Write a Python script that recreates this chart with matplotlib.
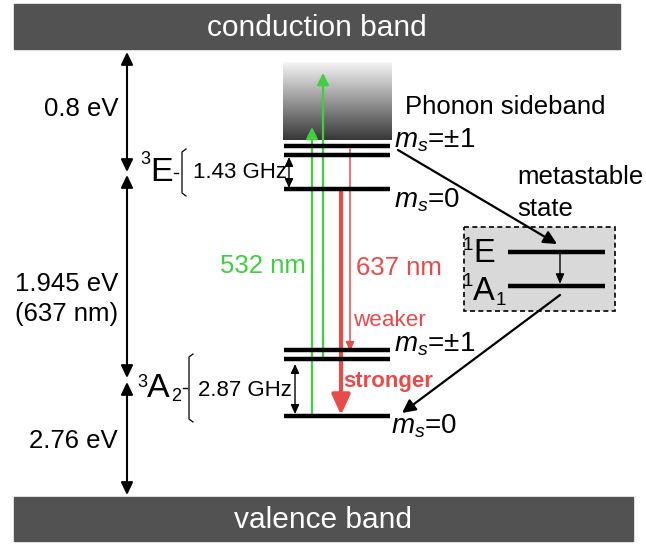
import numpy as np
import matplotlib
matplotlib.use("Agg")
import matplotlib.pyplot as plt
from matplotlib.patches import Rectangle, FancyArrowPatch

plt.rcParams['font.family'] = ['Liberation Sans', 'DejaVu Sans']
plt.rcParams['mathtext.fontset'] = 'custom'
plt.rcParams['mathtext.rm'] = 'Liberation Sans'
plt.rcParams['mathtext.it'] = 'Liberation Sans:italic'
plt.rcParams['mathtext.bf'] = 'Liberation Sans:bold'

# ---- diagram layout (canvas units, y grows downward) ----
band_labels = ["conduction band", "valence band"]
band_top = [4, 497]
band_bottom = [49, 541]

# triplet levels (y positions)
es_levels = [146, 155, 189]        # 3E: ms=±1 (split), ms=0
gs_levels = [350, 359, 416]        # 3A2: ms=±1 (split), ms=0
level_x = (284, 390)

# singlet (metastable) levels
singlet_levels = [252, 286]
singlet_x = (508, 605)

# energy gaps on the left axis
gap_labels = ["0.8 eV", "1.945 eV\n(637 nm)", "2.76 eV"]
gap_ranges = [(52, 172), (175, 378), (382, 495)]

GREEN = "#3fcf3f"
RED = "#e84b4b"
DARK = "#525252"

fig = plt.figure(figsize=(6.46, 5.44), dpi=100)
ax = fig.add_axes([0, 0, 1, 1])
ax.set_xlim(0, 646)
ax.set_ylim(544, 0)
ax.axis("off")

# bands
for lab, t, b, x1 in zip(band_labels, band_top, band_bottom, [620, 633]):
    ax.add_patch(Rectangle((14, t), x1 - 14, b - t, color=DARK, zorder=1))
    ax.text((14 + x1) / 2, (t + b) / 2 + 1, lab, color="white", fontsize=21.5,
            ha="center", va="center")

# phonon sideband gradient
grad = np.linspace(0.96, 0.22, 200).reshape(-1, 1)
ax.imshow(grad, cmap="gray", vmin=0, vmax=1, extent=(283, 392, 140, 62),
          aspect="auto", zorder=1)
ax.text(405, 107, "Phonon sideband", fontsize=18.5, ha="left", va="center")

def arrow(x0, y0, x1, y1, color="black", lw=1.5, hw=4, hl=8, both=False, z=3):
    style = f"{'<|-|>' if both else '-|>'},head_width={hw},head_length={hl}"
    p = FancyArrowPatch((x0, y0), (x1, y1), arrowstyle=style, color=color,
                        lw=lw, shrinkA=0, shrinkB=0, mutation_scale=1, zorder=z)
    ax.add_patch(p)

def term(x, y, base, sup, sup_xy, sub=None, sub_xy=None, fs=24, fs_small=13):
    """State term symbol: superscript multiplicity, letter, optional subscript.
    (x, y) is the left edge and baseline of the letter."""
    ax.text(*sup_xy, sup, fontsize=fs_small, ha="left", va="baseline", zorder=5)
    ax.text(x, y, base, fontsize=fs, ha="left", va="baseline", zorder=5)
    if sub is not None:
        ax.text(*sub_xy, sub, fontsize=fs_small, ha="left", va="baseline", zorder=5)

# left energy arrows
for (y0, y1), lab in zip(gap_ranges, gap_labels):
    arrow(127, y0, 127, y1, lw=1.5, hw=3.6, hl=7.5, both=True)
ax.text(118, 109, gap_labels[0], fontsize=18.5, ha="right", va="center")
ax.text(118, 299, gap_labels[1], fontsize=18.5, ha="right", va="center",
        multialignment="center", linespacing=1.3)
ax.text(118, 441, gap_labels[2], fontsize=18.5, ha="right", va="center")

# levels
for y in es_levels + gs_levels:
    ax.plot(level_x, [y, y], color="black", lw=3.2, solid_capstyle="butt", zorder=4)

# metastable box
ax.add_patch(Rectangle((464, 227), 151, 84, facecolor="#d9d9d9", edgecolor="black",
                       lw=1.2, ls=(0, (3, 2)), zorder=2))
for y in singlet_levels:
    ax.plot(singlet_x, [y, y], color="black", lw=3.2, solid_capstyle="butt", zorder=4)
term(473, 262, "E", "1", (463, 250), fs=23.5, fs_small=13.5)
term(473, 300, "A", "1", (463, 286), "1", (496, 305), fs=23.5, fs_small=13.5)
arrow(560, singlet_levels[0] + 2, 560, singlet_levels[1] - 2, lw=1, hw=2.5, hl=6)
ax.text(517, 177, "metastable", fontsize=18.5, ha="left", va="center")
ax.text(517, 209, "state", fontsize=18.5, ha="left", va="center")

# level labels
ax.text(394, 140, r"$m_s$=±1", fontsize=20, ha="left", va="center")
ax.text(394, 200, r"$m_s$=0", fontsize=20, ha="left", va="center")
ax.text(394, 344, r"$m_s$=±1", fontsize=20, ha="left", va="center")
ax.text(391, 426, r"$m_s$=0", fontsize=20, ha="left", va="center")

# state names with brackets
term(150, 181, "E", "3", (140, 164), fs=24.5, fs_small=13)
term(147, 397, "A", "3", (137, 387), "2", (171, 401), fs=24.5, fs_small=13)

def bracket(x, y0, y1, tick):
    ym = (y0 + y1) / 2
    ax.plot([x + 4, x, x, x + 4], [y0, y0 + 3, y1 - 3, y1], color="black", lw=0.9)
    ax.plot([tick, tick + 4], [ym, ym], color="black", lw=1.0)
bracket(182, 149, 196, 174)
bracket(189, 354, 422, 183)
ax.text(193, 173, "1.43 GHz", fontsize=16, ha="left", va="center")
ax.text(198, 391, "2.87 GHz", fontsize=16, ha="left", va="center")
arrow(289, es_levels[1] + 2, 289, es_levels[2] - 1, lw=1, hw=2.5, hl=5.5, both=True)
arrow(295, gs_levels[1] + 5, 295, gs_levels[2] - 2, lw=1, hw=2.5, hl=5.5, both=True)

# excitation (green)
arrow(312, gs_levels[2], 312, 127, color=GREEN, lw=1.6, hw=3.5, hl=7)
arrow(323, gs_levels[1], 323, 73, color=GREEN, lw=1.6, hw=3.5, hl=7)
ax.text(220, 266, "532 nm", color=GREEN, fontsize=18.5, ha="left", va="center")

# emission (red)
arrow(350, es_levels[0] + 3, 350, gs_levels[0] + 2, color=RED, lw=1.1, hw=2.5, hl=6)
arrow(341, es_levels[2] + 2, 341, gs_levels[2] - 1, color=RED, lw=3, hw=5.5, hl=12)
ax.text(356, 268, "637 nm", color=RED, fontsize=18.5, ha="left", va="center")
ax.text(353, 321, "weaker", color=RED, fontsize=16.2, ha="left", va="center")
ax.text(343, 382, "stronger", color=RED, fontsize=16, fontweight="bold",
        ha="left", va="center", zorder=6)

# intersystem crossing
arrow(398, 150, 557, 244, lw=1.6, hw=4, hl=8, z=5)
arrow(560, 295, 402, 413, lw=1.6, hw=4, hl=8, z=5)

fig.savefig("out.png", dpi=100)
